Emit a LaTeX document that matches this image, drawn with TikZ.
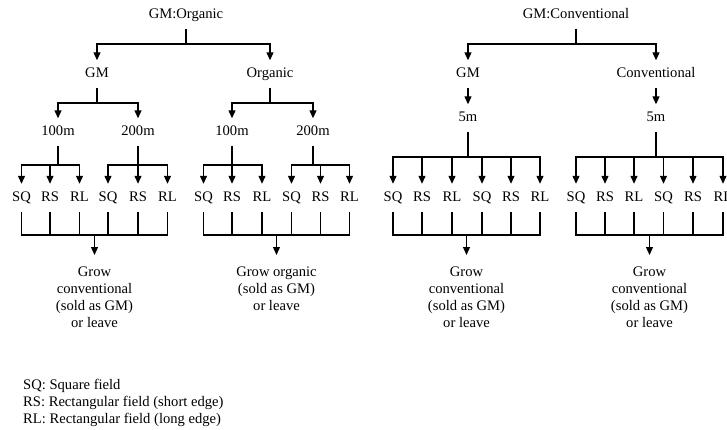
\documentclass[tikz,border=0pt]{standalone}
\usepackage{fontspec}
\setmainfont{Liberation Serif}
\usetikzlibrary{arrows.meta}
\begin{document}
\begin{tikzpicture}[x=1pt,y=-1pt,
  every node/.style={font=\fontsize{14.6}{17}\selectfont, inner sep=0pt},
  lab/.style={text height=10pt, text depth=3pt, minimum height=27pt},
  leaf/.style={lab, minimum height=28pt},
  outtext/.style={align=center, anchor=north, inner xsep=0pt, inner ysep=12pt},
  arr/.style={-{Triangle[length=8pt,width=7pt]}},
  ln/.style={line width=1.2pt}
]
\useasboundingbox (0,0) rectangle (727,430);
% level coordinates
\coordinate (L1) at (0,44);
\coordinate (L2) at (0,103);
\coordinate (L3) at (0,165);
\coordinate (L3b) at (0,157);
\coordinate (L4) at (0,235);

% left tree
\node[lab] (r1) at (186,15) {GM:Organic};
\node[lab] (g1) at (97,74) {GM};
\node[lab] (o1) at (270,74) {Organic};
\node[lab] (a1) at (58,132) {100m};
\node[lab] (a2) at (138,132) {200m};
\node[lab] (b1) at (232,132) {100m};
\node[lab] (b2) at (313,132) {200m};

% right tree
\node[lab] (r2) at (576,15) {GM:Conventional};
\node[lab] (g2) at (468,74) {GM};
\node[lab] (c2) at (656,74) {Conventional};
\node[lab] (f1) at (468,118) {5m};
\node[lab] (f2) at (656,118) {5m};

% leaves
\foreach \x/\t [count=\i] in {21.5/SQ,50/RS,79.5/RL,108/SQ,138/RS,167.5/RL,
  203.5/SQ,232/RS,262/RL,291.5/SQ,320.5/RS,349.5/RL,
  393/SQ,422/RS,452/RL,482/SQ,511/RS,540/RL,
  576/SQ,605/RS,634/RL,663.5/SQ,693/RS,723/RL}
  \node[leaf] (l\i) at (\x,198) {\t};

% outcomes
\node[outtext] (out1) at (94.5,255) {Grow\\conventional\\(sold as GM)\\or leave};
\node[outtext] (out2) at (276.5,255) {Grow organic\\(sold as GM)\\or leave};
\node[outtext] (out3) at (466.5,255) {Grow\\conventional\\(sold as GM)\\or leave};
\node[outtext] (out4) at (649.5,255) {Grow\\conventional\\(sold as GM)\\or leave};

% legend
\node[anchor=base west] (k1) at (23,389) {SQ: Square field};
\node[anchor=base west] (k2) at (23,406) {RS: Rectangular field (short edge)};
\node[anchor=base west] (k3) at (23,423) {RL: Rectangular field (long edge)};

% connectors: roots
\draw[ln] (r1.south) -- (r1.south |- L1);
\draw[ln,arr] (r1.south |- L1) -| (g1.north);
\draw[ln,arr] (r1.south |- L1) -| (o1.north);
\draw[ln] (r2.south) -- (r2.south |- L1);
\draw[ln,arr] (r2.south |- L1) -| (g2.north);
\draw[ln,arr] (r2.south |- L1) -| (c2.north);

% GM / Organic
\draw[ln] (g1.south) -- (g1.south |- L2);
\draw[ln,arr] (g1.south |- L2) -| (a1.north);
\draw[ln,arr] (g1.south |- L2) -| (a2.north);
\draw[ln] (o1.south) -- (o1.south |- L2);
\draw[ln,arr] (o1.south |- L2) -| (b1.north);
\draw[ln,arr] (o1.south |- L2) -| (b2.north);

% GM / Conventional to 5m
\draw[ln,arr] (g2.south) -- (f1.north);
\draw[ln,arr] (c2.south) -- (f2.north);

% distances to leaves
\draw[ln] (a1.south) -- (a1.south |- L3);
\foreach \i in {1,2,3} \draw[ln,arr] (a1.south |- L3) -| (l\i.north);
\draw[ln] (a2.south) -- (a2.south |- L3);
\foreach \i in {4,5,6} \draw[ln,arr] (a2.south |- L3) -| (l\i.north);
\draw[ln] (b1.south) -- (b1.south |- L3);
\foreach \i in {7,8,9} \draw[ln,arr] (b1.south |- L3) -| (l\i.north);
\draw[ln] (b2.south) -- (b2.south |- L3);
\foreach \i in {10,11,12} \draw[ln,arr] (b2.south |- L3) -| (l\i.north);
\draw[ln] (f1.south) -- (f1.south |- L3b);
\foreach \i in {13,...,18} \draw[ln,arr] (f1.south |- L3b) -| (l\i.north);
\draw[ln] (f2.south) -- (f2.south |- L3b);
\foreach \i in {19,...,24} \draw[ln,arr] (f2.south |- L3b) -| (l\i.north);

% bottom collectors
\foreach \a/\b/\o in {1/6/out1,7/12/out2,13/18/out3,19/24/out4}{
  \draw[ln] (l\a.south) |- (l\b.south |- L4) -- (l\b.south);
  \pgfmathtruncatemacro{\s}{\a+1}
  \pgfmathtruncatemacro{\e}{\b-1}
  \foreach \i in {\s,...,\e} \draw[ln] (l\i.south) -- (l\i.south |- L4);
  \draw[ln,arr] (\o.north |- L4) -- (\o.north);
}
\end{tikzpicture}
\end{document}
